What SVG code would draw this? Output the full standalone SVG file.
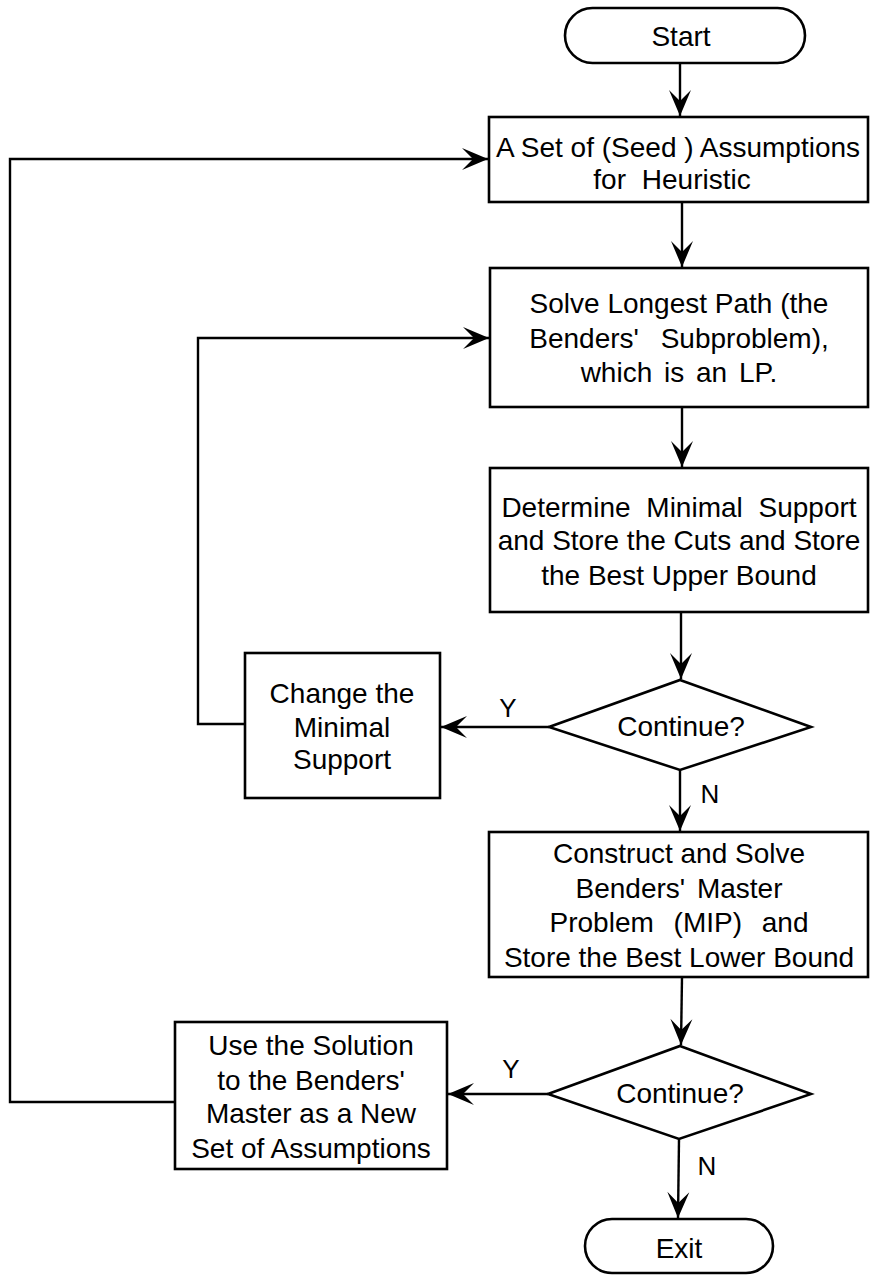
<svg xmlns="http://www.w3.org/2000/svg" width="870" height="1276" viewBox="0 0 870 1276">
<defs>
<marker id="arr" viewBox="-28 -12 30 24" refX="0" refY="0" markerWidth="30" markerHeight="24" markerUnits="userSpaceOnUse" orient="auto">
<path d="M0,0 L-26,-11 L-15,0 L-26,11 Z" fill="#000"/>
</marker>
<style>
.box{fill:#fff;stroke:#000;stroke-width:2.6}
.t{font-family:"Liberation Sans",Arial,sans-serif;font-size:28px;fill:#000;text-anchor:middle}
.lbl{font-family:"Liberation Sans",Arial,sans-serif;font-size:26px;fill:#000;text-anchor:middle}
.c{fill:none;stroke:#000;stroke-width:2.4}
</style>
</defs>
<rect width="870" height="1276" fill="#fff"/>
<g id="connectors">
<line class="c" x1="680" y1="63" x2="680" y2="116" marker-end="url(#arr)"/>
<line class="c" x1="682" y1="202" x2="682" y2="267" marker-end="url(#arr)"/>
<line class="c" x1="682" y1="407" x2="682" y2="467" marker-end="url(#arr)"/>
<line class="c" x1="681" y1="612" x2="681" y2="679" marker-end="url(#arr)"/>
<line class="c" x1="680" y1="770" x2="680" y2="831" marker-end="url(#arr)"/>
<line class="c" x1="682" y1="977" x2="681" y2="1045" marker-end="url(#arr)"/>
<line class="c" x1="679" y1="1139" x2="678" y2="1218" marker-end="url(#arr)"/>
<line class="c" x1="549" y1="727" x2="441" y2="727" marker-end="url(#arr)"/>
<line class="c" x1="548" y1="1094" x2="448" y2="1094" marker-end="url(#arr)"/>
<path class="c" d="M245,724 H198 V338 H489" marker-end="url(#arr)"/>
<path class="c" d="M175,1102 H10 V159 H488" marker-end="url(#arr)"/>
<text class="lbl" x="508" y="717">Y</text>
<text class="lbl" x="511" y="1078">Y</text>
<text class="lbl" x="710" y="803">N</text>
<text class="lbl" x="707" y="1175">N</text>
</g>
<g id="start">
<rect class="box" x="565" y="8" width="240" height="55" rx="27.5"/>
<text class="t" x="681" y="46">Start</text>
</g>
<g id="seed">
<rect class="box" x="489" y="117" width="379" height="85"/>
<text class="t" x="678" y="157">A Set of (Seed ) Assumptions</text>
<text class="t" x="672" y="189" word-spacing="8">for Heuristic</text>
</g>
<g id="longest">
<rect class="box" x="490" y="268" width="378" height="139"/>
<text class="t" x="679" y="313">Solve Longest Path (the</text>
<text class="t" x="679" y="348" word-spacing="14">Benders' Subproblem),</text>
<text class="t" x="679" y="382" word-spacing="4">which is an LP.</text>
</g>
<g id="minimal">
<rect class="box" x="490" y="468" width="378" height="144"/>
<text class="t" x="679" y="517" word-spacing="8">Determine Minimal Support</text>
<text class="t" x="679" y="550">and Store the Cuts and Store</text>
<text class="t" x="679" y="585">the Best Upper Bound</text>
</g>
<g id="continue1">
<polygon class="box" points="680,680 811,727 680,770 549,727"/>
<text class="t" x="681" y="736">Continue?</text>
</g>
<g id="change">
<rect class="box" x="245" y="653" width="195" height="145"/>
<text class="t" x="342" y="703">Change the</text>
<text class="t" x="342" y="737">Minimal</text>
<text class="t" x="342" y="769">Support</text>
</g>
<g id="master">
<rect class="box" x="489" y="832" width="379" height="145"/>
<text class="t" x="679" y="863">Construct and Solve</text>
<text class="t" x="679" y="898" word-spacing="4">Benders' Master</text>
<text class="t" x="679" y="932" word-spacing="12">Problem (MIP) and</text>
<text class="t" x="679" y="967">Store the Best Lower Bound</text>
</g>
<g id="continue2">
<polygon class="box" points="680,1046 811,1094 679,1139 548,1094"/>
<text class="t" x="680" y="1103">Continue?</text>
</g>
<g id="usesolution">
<rect class="box" x="175" y="1022" width="272" height="147"/>
<text class="t" x="311" y="1055">Use the Solution</text>
<text class="t" x="311" y="1090">to the Benders'</text>
<text class="t" x="311" y="1123">Master as a New</text>
<text class="t" x="311" y="1158">Set of Assumptions</text>
</g>
<g id="exit">
<rect class="box" x="585" y="1219" width="188" height="54" rx="27"/>
<text class="t" x="679" y="1258">Exit</text>
</g>
</svg>
